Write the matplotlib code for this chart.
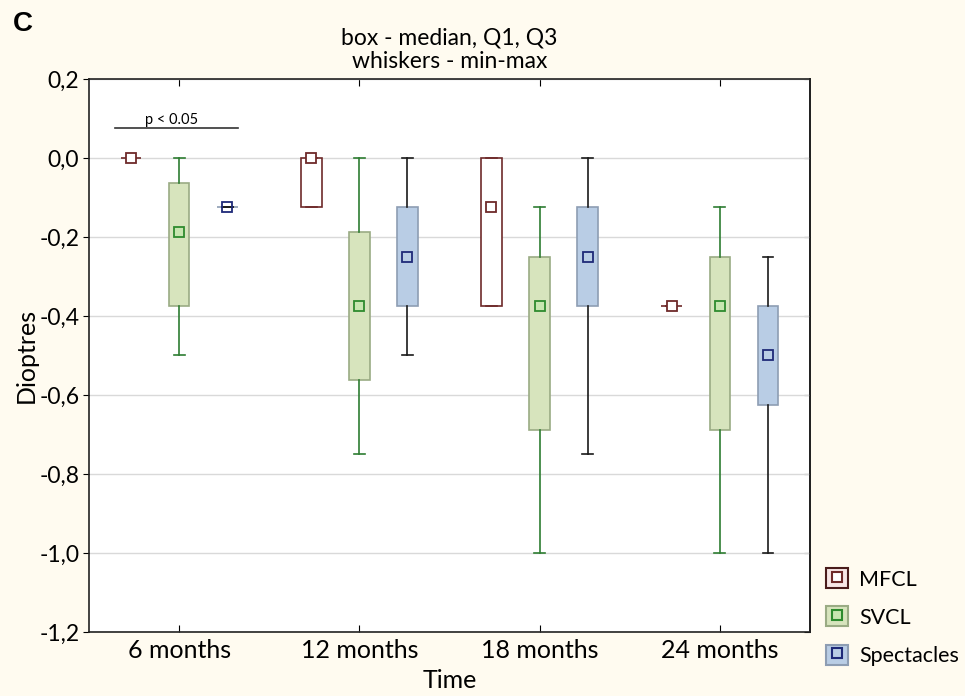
import matplotlib
matplotlib.use('Agg')
from matplotlib import pyplot as plt
from matplotlib.patches import Patch
from matplotlib.lines import Line2D

plt.rcParams['font.family'] = ['Lato', 'DejaVu Sans']

# Values (dioptres)
times = ['6 months', '12 months', '18 months', '24 months']
groups = ['MFCL', 'SVCL', 'Spectacles']

mfcl_med = [0.0, 0.0, -0.125, -0.375]
mfcl_q1 = [0.0, -0.125, -0.375, -0.375]
mfcl_q3 = [0.0, 0.0, 0.0, -0.375]
mfcl_min = [0.0, -0.125, -0.375, -0.375]
mfcl_max = [0.0, 0.0, 0.0, -0.375]

svcl_med = [-0.1875, -0.375, -0.375, -0.375]
svcl_q1 = [-0.375, -0.5625, -0.6875, -0.6875]
svcl_q3 = [-0.0625, -0.1875, -0.25, -0.25]
svcl_min = [-0.5, -0.75, -1.0, -1.0]
svcl_max = [0.0, 0.0, -0.125, -0.125]

spec_med = [-0.125, -0.25, -0.25, -0.5]
spec_q1 = [-0.125, -0.375, -0.375, -0.625]
spec_q3 = [-0.125, -0.125, -0.125, -0.375]
spec_min = [-0.125, -0.5, -0.75, -1.0]
spec_max = [-0.125, 0.0, 0.0, -0.25]

y_ticks = [0.2, 0.0, -0.2, -0.4, -0.6, -0.8, -1.0, -1.2]
y_labels = ['0,2', '0,0', '-0,2', '-0,4', '-0,6', '-0,8', '-1,0', '-1,2']

# style per group: box face, box edge, whisker colour, marker face, marker edge
styles = {
    'MFCL': dict(face='#ffffff', edge='#6e2a2a', whisk='#6e2a2a', mface='#ffffff', medge='#6e2a2a'),
    'SVCL': dict(face='#d7e4bd', edge='#9aab84', whisk='#2e7d32', mface='#c8e6b0', medge='#2e8b2e'),
    'Spectacles': dict(face='#b9cde5', edge='#8d9db3', whisk='#1a1a1a', mface='none', medge='#1f2a78'),
}
data = {
    'MFCL': (mfcl_med, mfcl_q1, mfcl_q3, mfcl_min, mfcl_max),
    'SVCL': (svcl_med, svcl_q1, svcl_q3, svcl_min, svcl_max),
    'Spectacles': (spec_med, spec_q1, spec_q3, spec_min, spec_max),
}
offsets = [-0.267, 0.0, 0.267]
bg = '#fffbf0'

fig = plt.figure(figsize=(9.65, 6.96), dpi=100, facecolor=bg)
ax = fig.add_axes([0.0922, 0.092, 0.7472, 0.7945])
ax.set_facecolor('white')

for g, off in zip(groups, offsets):
    med, q1, q3, lo, hi = data[g]
    st = styles[g]
    stats = [dict(med=med[i], q1=q1[i], q3=q3[i], whislo=lo[i], whishi=hi[i], fliers=[])
             for i in range(len(times))]
    pos = [i + 1 + off for i in range(len(times))]
    ax.bxp(stats, positions=pos, widths=0.115, patch_artist=True, showfliers=False,
           capwidths=0.06, manage_ticks=False,
           boxprops=dict(facecolor=st['face'], edgecolor=st['edge'], linewidth=1.2),
           whiskerprops=dict(color=st['whisk'], linewidth=1.2),
           capprops=dict(color=st['whisk'], linewidth=1.2),
           medianprops=dict(linewidth=0))
    ax.plot(pos, med, linestyle='none', marker='s', markersize=7.5,
            markerfacecolor=st['mface'], markeredgecolor=st['medge'], markeredgewidth=1.3, zorder=5)

# significance bar
ax.plot([0.644, 1.328], [0.076, 0.076], color='#333333', linewidth=1.2)
ax.text(0.956, 0.079, 'p < 0.05', ha='center', va='bottom', fontsize=10.5)

ax.set_xlim(0.5, 4.5)
ax.set_ylim(-1.2, 0.2)
ax.set_yticks(y_ticks)
ax.set_yticklabels(y_labels, fontsize=16.5)
ax.set_xticks(range(1, len(times) + 1))
ax.set_xticklabels(times, fontsize=18)
ax.tick_params(axis='x', direction='in', length=5, top=True, pad=5)
ax.tick_params(axis='y', direction='out', length=4, pad=3)
ax.grid(axis='y', color='#d9d9d9', linewidth=1)
ax.set_axisbelow(True)
for s in ax.spines.values():
    s.set_color('#222222')
    s.set_linewidth(1.2)

sec = ax.secondary_yaxis('right')
sec.set_yticks(y_ticks)
sec.set_yticklabels([])
sec.tick_params(direction='in', length=4)
sec.spines['right'].set_linewidth(1.2)

ax.set_ylabel('Dioptres', fontsize=18, labelpad=1)
ax.set_xlabel('Time', fontsize=18, labelpad=5)
ax.set_title('box - median, Q1, Q3\nwhiskers - min-max', fontsize=16.5, linespacing=1.15, pad=8)
fig.text(0.013, 0.965, 'C', fontsize=20, fontweight='bold', family='Liberation Sans', va='center')

handles = []
for g in groups:
    st = styles[g]
    pface = {'MFCL': '#f7e6e6', 'SVCL': st['face'], 'Spectacles': st['face']}[g]
    pedge = {'MFCL': '#4a1c1c', 'SVCL': st['edge'], 'Spectacles': st['edge']}[g]
    handles.append((Patch(facecolor=pface, edgecolor=pedge, linewidth=1.5),
                    Line2D([], [], linestyle='none', marker='s', markersize=7.5,
                           markerfacecolor='none' if g == 'Spectacles' else st['mface'],
                           markeredgecolor=st['medge'], markeredgewidth=1.5)))
fig.legend(handles, groups, loc='lower left', bbox_to_anchor=(0.849, 0.034), frameon=False,
           fontsize=15.5, handlelength=1.05, handleheight=1.05, handletextpad=0.5, labelspacing=0.78,
           borderaxespad=0.0, borderpad=0.3)

fig.savefig('out.png', dpi=100, facecolor=bg)
